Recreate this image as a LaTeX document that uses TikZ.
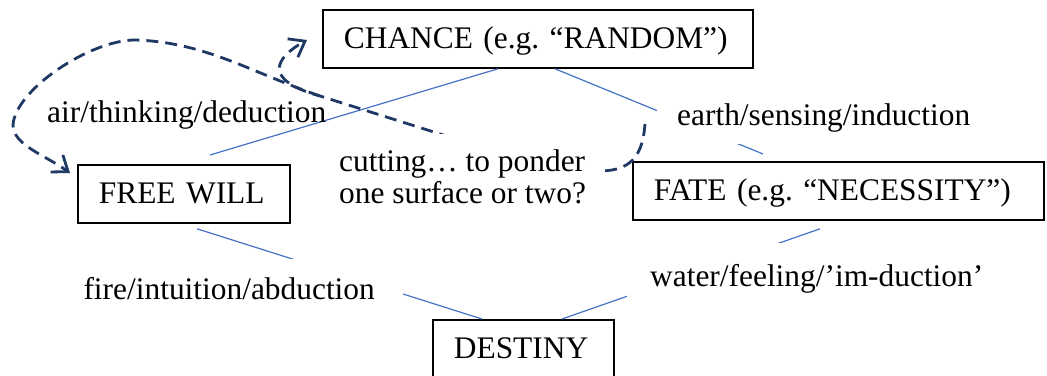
\documentclass[tikz,border=0pt]{standalone}
\usepackage{fontspec}
\setmainfont[Ligatures={TeX,NoCommon}]{Liberation Serif}
\usetikzlibrary{arrows.meta}
\definecolor{navy}{RGB}{31,56,100}
\definecolor{lineblue}{RGB}{68,114,196}
\frenchspacing
\begin{document}
\begin{tikzpicture}[x=1pt,y=-1pt,
  bigtext/.style={font=\fontsize{31.4pt}{32pt}\selectfont, text=black},
  boxnode/.style={bigtext, draw=black, line width=1.8pt, anchor=north west,
    minimum height=58pt, inner xsep=21pt, inner ysep=0pt,
    text height=22pt, text depth=2pt, align=left},
  lbl/.style={bigtext, inner sep=0pt},
  whitelabel/.style={bigtext, fill=white},
  bluelink/.style={draw=lineblue, line width=1.2pt},
  dashloop/.style={draw=navy, line width=2.8pt, dash pattern=on 12pt off 7pt,
    -{Straight Barb[length=14pt,width=21pt]}},
]
\useasboundingbox (0,0) rectangle (1047,375);

% boxes
\node[boxnode, text width=388pt] (chance) at (322,9) {\mbox{CHANCE (e.g. “RANDOM”)}};
\node[boxnode, text width=170pt] (freewill) at (77,164) {\mbox{FREE WILL}};
\node[boxnode, text width=369pt] (fate) at (632,161) {\mbox{FATE (e.g. “NECESSITY”)}};
\node[boxnode, text width=139pt] (destiny) at (432,319) {\mbox{DESTINY}};

% blue connectors
\draw[bluelink] ([xshift=176pt]chance.south west) -- ([xshift=133pt,yshift=9pt]freewill.north west);
\draw[bluelink] ([xshift=233pt]chance.south west) -- ([xshift=131pt,yshift=7pt]fate.north west);
\draw[bluelink] ([xshift=120pt,yshift=-5pt]freewill.south west) -- ([xshift=50pt]destiny.north west);
\draw[bluelink] ([xshift=188pt,yshift=-8pt]fate.south west) -- ([xshift=130pt]destiny.north west);

% dashed loop
\coordinate (d0) at (645,124);
\coordinate (dm) at (320,96);
\draw[dashloop] (d0) .. controls (643,150) and (635,166) .. (612,170)
  .. controls (560,178) and (490,150) .. (437,133) -- (dm)
  .. controls (262,80) and (275,58) .. ([xshift=-15pt,yshift=-31pt]chance.north west);
\draw[dashloop] (dm) .. controls (250,72) and (205,42) .. (135,40)
  .. controls (90,40) and (15,90) .. (13,125)
  .. controls (13,145) and (45,155) .. ([xshift=-7pt,yshift=-9pt]freewill.north west);

% labels
\node[lbl, anchor=base west] (air) at (47,122) {air/thinking/deduction};
\node[whitelabel, anchor=base west, inner xsep=20pt, inner ysep=12pt] (earth) at (657,125) {earth/sensing/induction};
\node[whitelabel, anchor=base east, inner xsep=28pt, inner ysep=18pt] (fire) at (403,299) {fire/intuition/abduction};
\node[whitelabel, anchor=base west, inner xsep=23pt, inner ysep=21pt] (water) at (627,286) {water/feeling/’im-duction’};
\node[whitelabel, anchor=north west, inner xsep=18pt, inner ysep=16pt, align=left] (cut) at (321,134) {cutting… to ponder\\one surface or two?};
\end{tikzpicture}
\end{document}
